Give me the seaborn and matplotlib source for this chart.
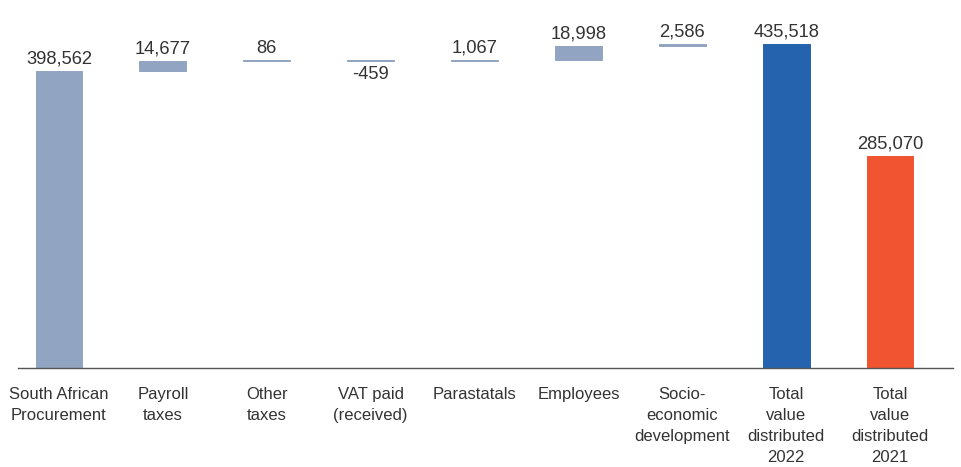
import matplotlib
matplotlib.use("Agg")
import matplotlib.pyplot as plt
import seaborn as sns

# data
categories = ['South African\nProcurement', 'Payroll\ntaxes', 'Other\ntaxes',
              'VAT paid\n(received)', 'Parastatals', 'Employees',
              'Socio-\neconomic\ndevelopment', 'Total\nvalue\ndistributed\n2022',
              'Total\nvalue\ndistributed\n2021']
values = [398562, 14677, 86, -459, 1067, 18998, 2586, 435518, 285070]
value_labels = ['398,562', '14,677', '86', '-459', '1,067', '18,998', '2,586',
                '435,518', '285,070']
is_total = [False, False, False, False, False, False, False, True, True]

grey = '#91a5c2'
bar_colors = [grey] * 7 + ['#2563ae', '#f05430']
text_color = '#333333'

# floating bottoms for the waterfall steps
bottoms = []
running = 0
for v, tot in zip(values, is_total):
    if tot:
        bottoms.append(0)
    else:
        bottoms.append(running)
        running += v
tops = [b + v for b, v in zip(bottoms, values)]

sns.set_style("white")
plt.rcParams['font.family'] = ['Liberation Sans', 'DejaVu Sans']

fig = plt.figure(figsize=(9.62, 4.67), dpi=100)
ax = fig.add_axes([18 / 962, 99 / 467, 935 / 962, 368 / 467])

sns.barplot(x=list(range(len(values))), y=values, bottom=bottoms,
            color=grey, width=0.45, errorbar=None, ax=ax)
for patch, c in zip(ax.patches, bar_colors):
    patch.set_facecolor(c)
    patch.set_edgecolor(c)
    patch.set_linewidth(0.7)

# value labels
for i, (lab, v) in enumerate(zip(value_labels, values)):
    if v < 0:
        ax.annotate(lab, (i, bottoms[i] + v), xytext=(0, -4), textcoords='offset points',
                    ha='center', va='top', fontsize=13.2, color=text_color)
    else:
        ax.annotate(lab, (i, tops[i]), xytext=(0, 2.5), textcoords='offset points',
                    ha='center', va='bottom', fontsize=13.2, color=text_color)

ax.set_xlim(-0.394, len(values) - 1 + 0.606)
ax.set_ylim(0, 494600)
ax.set_yticks([])
ax.set_xticks(range(len(values)))
ax.set_xticklabels(categories, fontsize=12, color=text_color, linespacing=1.5)
ax.tick_params(axis='x', length=0, pad=14)
ax.set_xlabel('')
ax.set_ylabel('')

sns.despine(ax=ax, left=True, top=True, right=True)
ax.spines['bottom'].set_color('#555555')
ax.spines['bottom'].set_linewidth(1)

fig.savefig('out.png', dpi=100)
